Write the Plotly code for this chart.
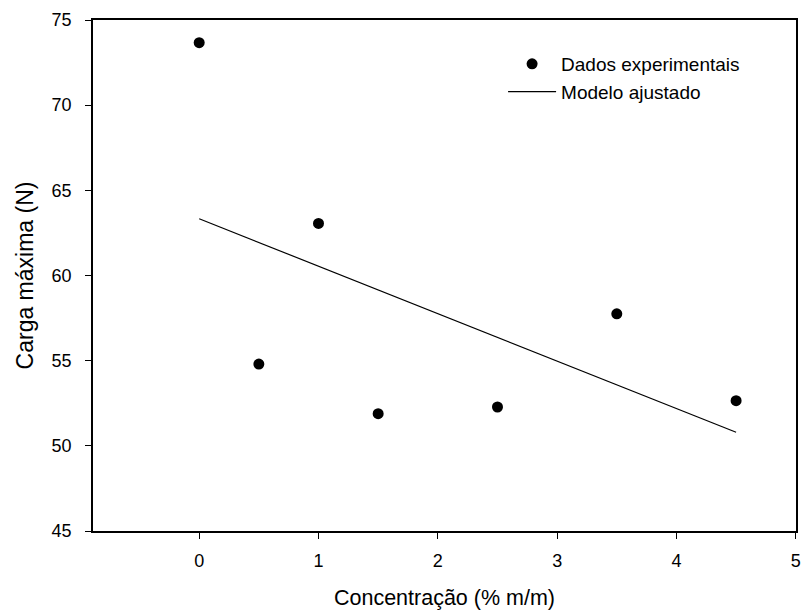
import plotly.graph_objects as go

# Data
conc = [0, 0.5, 1.0, 1.5, 2.5, 3.5, 4.5]
carga = [73.67, 54.8, 63.06, 51.89, 52.28, 57.75, 52.65]
model_x = [0, 4.5]
model_y = [63.33, 50.8]
x_ticks = [0, 1, 2, 3, 4, 5]
y_ticks = [45, 50, 55, 60, 65, 70, 75]

FONT = "Arial, Liberation Sans, sans-serif"

fig = go.Figure()
fig.add_trace(go.Scatter(
    x=conc, y=carga, mode="markers", name="Dados experimentais",
    marker=dict(color="black", size=11),
))
fig.add_trace(go.Scatter(
    x=model_x, y=model_y, mode="lines", name="Modelo ajustado",
    line=dict(color="black", width=1.2),
))

W, H = 804, 613
L, R, T, B = 93, 3, 20, 82
pw, ph = W - L - R, H - T - B

def px2x(px):
    return (px - L) / pw

def py2y(py):
    return 1 - (py - T) / ph

fig.update_layout(
    width=W, height=H,
    margin=dict(l=L, r=R, t=T, b=B),
    paper_bgcolor="white", plot_bgcolor="white",
    font=dict(family=FONT, color="black", size=18),
    showlegend=True,
    legend=dict(
        x=px2x(506), y=py2y(45), xanchor="left", yanchor="top",
        bgcolor="rgba(0,0,0,0)", borderwidth=0,
        font=dict(family=FONT, size=19, color="black"),
        itemwidth=48,
    ),
    xaxis=dict(
        range=[-0.89, 5.002], tickvals=x_ticks, ticktext=[str(v) for v in x_ticks],
        showline=True, linecolor="black", linewidth=1.5, mirror=True,
        ticks="outside", ticklen=6, tickwidth=1.3, tickcolor="black",
        showgrid=False, zeroline=False,
        ticklabelstandoff=7,
        tickfont=dict(size=18),
        title=dict(text="Concentração (% m/m)", font=dict(size=21.5), standoff=20),
    ),
    yaxis=dict(
        range=[45, 75], tickvals=y_ticks, ticktext=[str(v) for v in y_ticks],
        showline=True, linecolor="black", linewidth=1.5, mirror=True,
        ticks="outside", ticklen=6, tickwidth=1.3, tickcolor="black",
        showgrid=False, zeroline=False,
        ticklabelstandoff=10,
        tickfont=dict(size=18),
        title=dict(text="Carga máxima (N)", font=dict(size=23), standoff=12),
    ),
)

fig.write_html("out.html")
